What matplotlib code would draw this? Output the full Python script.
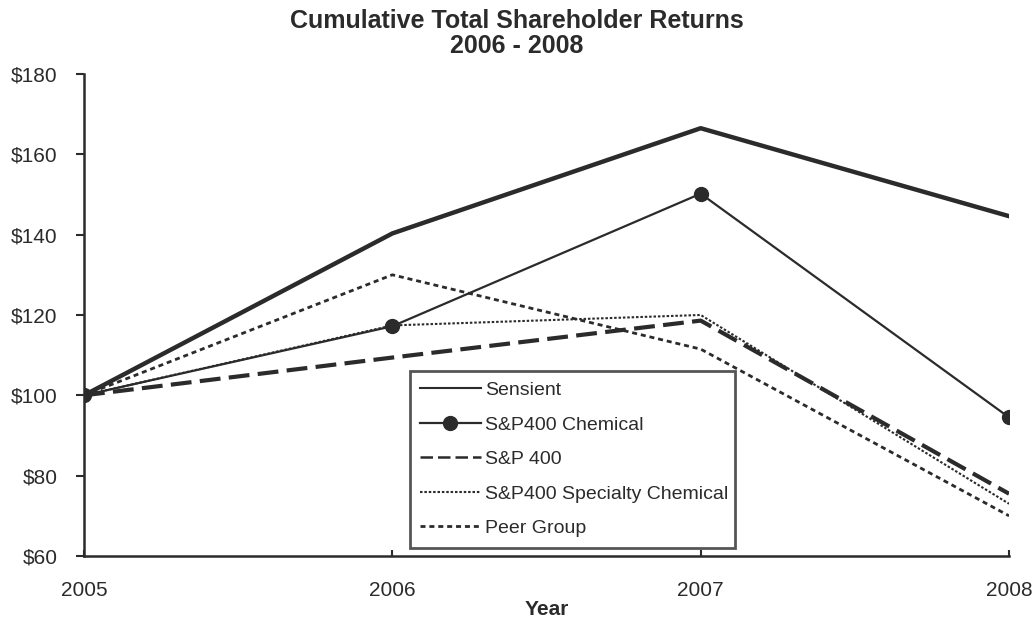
import matplotlib
matplotlib.use('Agg')
import matplotlib.pyplot as plt

# Данные графика
years = [2005, 2006, 2007, 2008]
sensient = [100, 140.3, 166.5, 144.6]
sp400_chemical = [100, 117.2, 150.2, 94.5]
sp400 = [100, 109.4, 118.6, 75.5]
sp400_specialty = [100, 117.4, 120.0, 73.0]
peer_group = [100, 130.0, 111.5, 70.0]
y_ticks = [60, 80, 100, 120, 140, 160, 180]

plt.rcParams['font.family'] = ['Liberation Sans', 'DejaVu Sans']
dark = '#2b2b2b'

fig = plt.figure(figsize=(10.33, 6.17), dpi=100)
ax = fig.add_axes([0.0813, 0.0989, 0.8955, 0.7812])

ax.plot(years, sensient, color=dark, lw=3.2, label='Sensient')
ax.plot(years, sp400_chemical, color=dark, lw=1.6, marker='o', markersize=10,
        label='S&P400 Chemical')
ax.plot(years, sp400, color=dark, lw=3.0, dashes=(5, 2), label='S&P 400')
ax.plot(years, sp400_specialty, color=dark, lw=1.5, dashes=(1.2, 0.9),
        label='S&P400 Specialty Chemical')
ax.plot(years, peer_group, color=dark, lw=2.0, dashes=(1.8, 1.4),
        label='Peer Group')

ax.set_xlim(2005, 2008)
ax.set_ylim(60, 180)
ax.set_xticks(years)
ax.set_yticks(y_ticks)
ax.set_yticklabels([f'${v}' for v in y_ticks])
ax.tick_params(axis='both', labelsize=15, colors=dark, width=1.5)
ax.tick_params(axis='x', direction='in', length=4, pad=18)
ax.tick_params(axis='y', direction='out', length=6, pad=13)
for s in ['top', 'right']:
    ax.spines[s].set_visible(False)
for s in ['left', 'bottom']:
    ax.spines[s].set_linewidth(1.8)
    ax.spines[s].set_color(dark)

ax.set_xlabel('Year', fontsize=15, fontweight='bold', color=dark, labelpad=0)

# Заголовок в две строки
fig.text(0.5, 1 - 28 / 617, 'Cumulative Total Shareholder Returns', fontsize=18,
         fontweight='bold', color=dark, ha='center', va='baseline')
fig.text(0.5, 1 - 53 / 617, '2006 - 2008', fontsize=18,
         fontweight='bold', color=dark, ha='center', va='baseline')

leg = ax.legend(loc='lower left', bbox_to_anchor=(0.352, 0.017, 0.352, 0.367),
                mode='expand', fontsize=14, frameon=True, fancybox=False,
                handlelength=3.1, handletextpad=0.25, labelspacing=0.87,
                borderpad=0.55, borderaxespad=0)
leg.get_frame().set_edgecolor(dark)
leg.get_frame().set_linewidth(2.0)
for t in leg.get_texts():
    t.set_color(dark)
leg.get_lines()[0].set_linewidth(1.5)
leg.get_lines()[2].set_linewidth(1.8)

plt.savefig('out.png', dpi=100)
plt.close()
